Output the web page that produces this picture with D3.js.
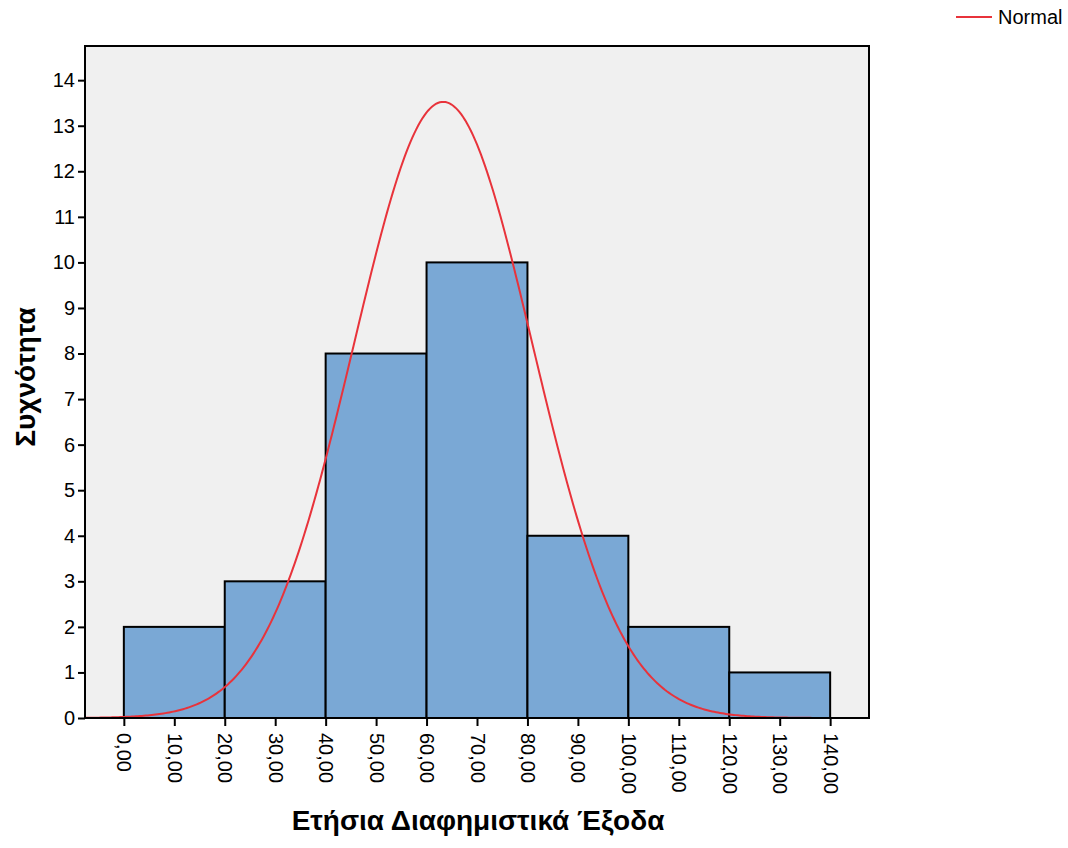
<!DOCTYPE html>
<html>
<head>
<meta charset="utf-8">
<script src="https://cdn.jsdelivr.net/npm/d3@7/dist/d3.min.js"></script>
<style>
  html, body { margin: 0; padding: 0; background: #fff; }
  svg { display: block; font-family: "Liberation Sans", Arial, sans-serif; }
</style>
</head>
<body>
<svg id="chart" width="1068" height="848"></svg>
<script>
// Histogram bins (lower edge, upper edge) and frequencies
const binStarts = [0, 20, 40, 60, 80, 100, 120];
const binWidth = 20;
const counts = [2, 3, 8, 10, 4, 2, 1];

// Fitted normal distribution parameters
const normalMean = 63.3;
const normalSd = 17.7;

// Axis ticks
const xTicks = [0, 10, 20, 30, 40, 50, 60, 70, 80, 90, 100, 110, 120, 130, 140];
const yTicks = [0, 1, 2, 3, 4, 5, 6, 7, 8, 9, 10, 11, 12, 13, 14];

const xTitle = "Ετήσια Διαφημιστικά Έξοδα";
const yTitle = "Συχνότητα";
const legendLabel = "Normal";

const plot = { left: 85, top: 46, right: 869, bottom: 718 };

const svg = d3.select("#chart");

const x = d3.scaleLinear().domain([-7.7, 147.7]).range([plot.left, plot.right]);
const y = d3.scaleLinear().domain([0, 14.75]).range([plot.bottom, plot.top]);

// Plot background
svg.append("rect")
  .attr("x", plot.left).attr("y", plot.top)
  .attr("width", plot.right - plot.left).attr("height", plot.bottom - plot.top)
  .attr("fill", "#f0f0f0");

// Bars
const bins = binStarts.map((s, i) => ({ x0: s, x1: s + binWidth, n: counts[i] }));
svg.append("g").selectAll("rect").data(bins).join("rect")
  .attr("x", d => x(d.x0))
  .attr("y", d => y(d.n))
  .attr("width", d => x(d.x1) - x(d.x0))
  .attr("height", d => y(0) - y(d.n))
  .attr("fill", "#7aa8d5")
  .attr("stroke", "#000")
  .attr("stroke-width", 2);

// Normal curve scaled to the histogram's counts
const total = d3.sum(counts);
const density = v => total * binWidth * Math.exp(-0.5 * ((v - normalMean) / normalSd) ** 2) / (normalSd * Math.sqrt(2 * Math.PI));
const [dMin, dMax] = x.domain();
const curvePts = d3.range(0, 401).map(i => dMin + (dMax - dMin) * i / 400);
svg.append("path")
  .datum(curvePts)
  .attr("fill", "none")
  .attr("stroke", "#e8333b")
  .attr("stroke-width", 2)
  .attr("d", d3.line().x(v => x(v)).y(v => y(density(v))));

// Frame
svg.append("rect")
  .attr("x", plot.left).attr("y", plot.top)
  .attr("width", plot.right - plot.left).attr("height", plot.bottom - plot.top)
  .attr("fill", "none").attr("stroke", "#000").attr("stroke-width", 2);

// Y axis
const yAxis = svg.append("g")
  .attr("transform", `translate(${plot.left},0)`)
  .call(d3.axisLeft(y).tickValues(yTicks).tickSize(7).tickPadding(3).tickFormat(d3.format("d")));
yAxis.select(".domain").remove();
yAxis.selectAll(".tick line").attr("stroke", "#000").attr("stroke-width", 2);
yAxis.selectAll(".tick text")
  .attr("font-size", 20).attr("fill", "#000")
  .attr("font-family", "Liberation Sans, Arial, sans-serif");

// X axis
const fmtComma = v => v.toFixed(2).replace(".", ",");
const xAxis = svg.append("g")
  .attr("transform", `translate(0,${plot.bottom})`)
  .call(d3.axisBottom(x).tickValues(xTicks).tickSize(8).tickFormat(fmtComma));
xAxis.select(".domain").remove();
xAxis.selectAll(".tick line").attr("stroke", "#000").attr("stroke-width", 2);
xAxis.selectAll(".tick text")
  .attr("font-size", 20).attr("fill", "#000")
  .attr("font-family", "Liberation Sans, Arial, sans-serif")
  .attr("transform", "rotate(90)")
  .attr("x", 15).attr("y", 0).attr("dy", "0.35em")
  .attr("text-anchor", "start");

// Axis titles
svg.append("text")
  .attr("x", 478).attr("y", 830)
  .attr("text-anchor", "middle")
  .attr("font-size", 28).attr("font-weight", "bold")
  .text(xTitle);

svg.append("text")
  .attr("transform", `translate(35,${(plot.top + plot.bottom) / 2 - 5}) rotate(-90)`)
  .attr("text-anchor", "middle")
  .attr("font-size", 28).attr("font-weight", "bold")
  .text(yTitle);

// Legend
svg.append("line")
  .attr("x1", 956).attr("x2", 992).attr("y1", 17).attr("y2", 17)
  .attr("stroke", "#e8333b").attr("stroke-width", 2);
svg.append("text")
  .attr("x", 998).attr("y", 24)
  .attr("font-size", 20)
  .text(legendLabel);
</script>
</body>
</html>
